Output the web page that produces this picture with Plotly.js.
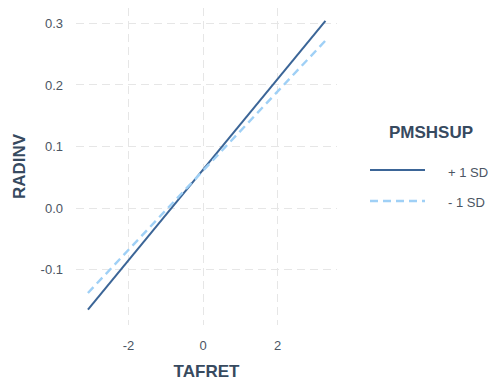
<!DOCTYPE html>
<html>
<head>
<meta charset="utf-8">
<script src="https://cdn.plot.ly/plotly-3.0.1.min.js"></script>
<style>
  html, body { margin: 0; padding: 0; background: #ffffff; }
  #chart { width: 490px; height: 382px; }
</style>
</head>
<body>
<div id="chart"></div>
<script>
// Simple slopes of RADINV on TAFRET at high and low PMSHSUP
const tafretPlus = [-3.09, 3.28];
const radinvPlus = [-0.165, 0.304];
const tafretMinus = [-3.09, 3.28];
const radinvMinus = [-0.138, 0.272];
const seriesNames = ['+ 1 SD', '- 1 SD'];
const legendTitle = 'PMSHSUP';
const xTicks = [-2, 0, 2];
const yTicks = [-0.1, 0.0, 0.1, 0.2, 0.3];
const yTickText = ['-0.1', '0.0', '0.1', '0.2', '0.3'];

const textColor = '#4b5563';
const titleColor = '#374a5f';
const gridColor = '#e6e6e6';
const lineStyles = [
  { color: '#3b6597', width: 2, dash: 'solid' },
  { color: '#9fd0f6', width: 2.4, dash: '8px,5px' }
];

const traces = [
  { x: tafretPlus, y: radinvPlus, name: seriesNames[0], mode: 'lines', line: lineStyles[0] },
  { x: tafretMinus, y: radinvMinus, name: seriesNames[1], mode: 'lines', line: lineStyles[1] }
];

// Plot area in pixels, used to place the hand-built legend in paper units
const M = { l: 76, r: 153, t: 8, b: 57 };
const W = 490, H = 382;
const pw = W - M.l - M.r, ph = H - M.t - M.b;
const px = v => (v - M.l) / pw;
const py = v => (H - M.b - v) / ph;

const legendRows = [170, 201];
const shapes = legendRows.map((yy, i) => ({
  type: 'line', xref: 'paper', yref: 'paper',
  x0: px(370), x1: px(425), y0: py(yy), y1: py(yy),
  line: lineStyles[i]
}));
const annotations = [
  {
    text: '<b>' + legendTitle + '</b>', xref: 'paper', yref: 'paper',
    x: px(431), y: py(132), xanchor: 'center', yanchor: 'middle', showarrow: false,
    font: { size: 17, color: titleColor }
  }
].concat(legendRows.map((yy, i) => ({
  text: seriesNames[i], xref: 'paper', yref: 'paper',
  x: px(446), y: py(yy + 2), xanchor: 'left', yanchor: 'middle', showarrow: false,
  font: { size: 13, color: textColor }
})));

const layout = {
  width: W, height: H,
  margin: M,
  paper_bgcolor: '#ffffff', plot_bgcolor: '#ffffff',
  font: { family: 'Liberation Sans, Arial, sans-serif', size: 13, color: textColor },
  showlegend: false,
  xaxis: {
    range: [-3.41, 3.59],
    tickvals: xTicks, ticktext: xTicks.map(String),
    showgrid: true, gridcolor: gridColor, gridwidth: 1, griddash: '8px,5px',
    zeroline: false, showline: false, ticks: '',
    ticklabelstandoff: 11,
    tickfont: { size: 13, color: textColor },
    title: { text: '<b>TAFRET</b>', font: { size: 17, color: titleColor }, standoff: 13 }
  },
  yaxis: {
    range: [-0.19, 0.325],
    tickvals: yTicks, ticktext: yTickText,
    showgrid: true, gridcolor: gridColor, gridwidth: 1, griddash: '8px,5px',
    zeroline: false, showline: false, ticks: '',
    ticklabelstandoff: 12,
    tickfont: { size: 13, color: textColor },
    title: { text: '<b>RADINV</b>', font: { size: 17, color: titleColor }, standoff: 10 }
  },
  shapes: shapes,
  annotations: annotations
};

Plotly.newPlot('chart', traces, layout, { displayModeBar: false, staticPlot: true });
</script>
</body>
</html>
